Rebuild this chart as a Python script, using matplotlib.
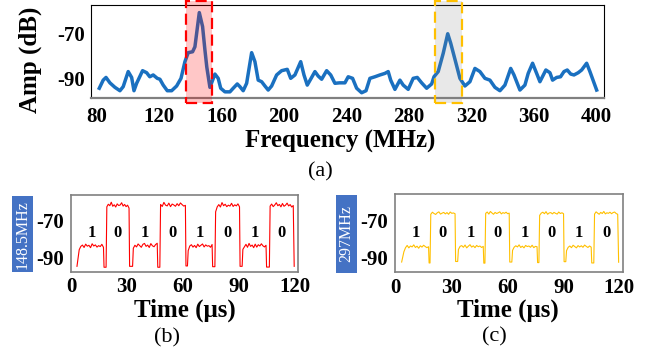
import matplotlib.pyplot as plt
import matplotlib.patches as patches
import numpy as np

plt.rcParams['font.family'] = ['Liberation Serif', 'DejaVu Serif']
plt.rcParams['axes.unicode_minus'] = False

# ---- spectrum (a) ----
freq_mhz = [81.7, 84.2, 86, 88.5, 91.7, 94.9, 97, 100.2, 102.4, 103.9, 105.6, 109.4, 112, 114,
            116.2, 118.8, 120.5, 122.6, 125.2, 128, 131.2, 134, 136.5, 138.6, 141.4, 142.9, 145.7,
            147.8, 149.3, 150.5, 152.5, 155.7, 157.8, 159.4, 162.1, 165.3, 167.4, 170, 171.7, 173.8,
            176, 179.2, 181.3, 183.4, 185.6, 187.7, 189.8, 192, 195.2, 198.4, 202, 204.2, 206.9,
            210.6, 212.7, 214.8, 217.6, 219.7, 221.8, 224, 227.2, 229.8, 232.5, 235.5, 238.9, 241,
            243.8, 246.4, 249.6, 252.4, 254.9, 258.1, 261.3, 264.5, 266.6, 268.2, 270.9, 274.1,
            276.2, 279.4, 282.6, 285.2, 288, 291.2, 294.4, 295.9, 298.6, 301.8, 304.7, 306.6, 309.3,
            312.5, 315.7, 318.9, 322.1, 325.3, 328.5, 331.7, 334.9, 338.1, 341.3, 345, 347.1, 350.9,
            354.1, 356.2, 359, 361.6, 363.7, 367.5, 370.1, 371.8, 374.4, 376.9, 379.1, 381.2, 383.4,
            385.5, 388.2, 390.4, 393.6, 395.7, 400]
amp_db = [-94.4, -90.8, -89.6, -92, -94, -95.5, -93.7, -87, -89.6, -95.5, -92.2, -86.6, -87.5, -89.3,
          -88.5, -90, -90.4, -93, -95.5, -95.5, -93.4, -90, -82.6, -78.6, -78.2, -76, -60.8,
          -67, -77.4, -85, -94, -88.1, -90, -94.4, -96, -96, -94.4, -92.5, -93.7, -95.5,
          -92.2, -78.6, -82.6, -90.8, -91.5, -93.4, -95.2, -93.4, -88.5, -86.6, -86, -90, -88.5,
          -82.6, -88.5, -93, -89.6, -87, -89, -90.4, -86.6, -88.5, -92.2, -92, -92, -89.3,
          -90, -94.4, -96.4, -95.5, -90, -89.3, -88.5, -87.8, -87, -90.8, -94.9, -90.8,
          -93, -94.9, -90, -89.6, -92, -94.4, -92.5, -89.3, -87, -78.9, -70.2, -74.4, -81.5,
          -90, -93.4, -91.5, -85.6, -87, -90, -90.8, -94, -95.5, -93, -85.6, -88.5, -95.2,
          -93, -87.8, -83.3, -87.8, -91.5, -86.3, -87.5, -90.8, -89.6, -89.3, -87, -86.3, -88.1,
          -88.5, -87.5, -86.3, -83.3, -87, -95.2]
red_band = (137, 154)
gray_band = (296.5, 313.6)
freq_ticks = [80, 120, 160, 200, 240, 280, 320, 360, 400]

# ---- time traces (b) and (c) ----
bits = ['1', '0', '1', '0', '1', '0', '1', '0']
carrier_labels = ['148.5MHz', '297MHz']
time_ticks = [0, 30, 60, 90, 120]

t_start_b = [4.4, 19.2, 33.4, 48.0, 62.8, 77.5, 92.1, 106.7]
t_end_b = [17.4, 31.1, 46.2, 61.3, 75.6, 90.3, 104.5, 119.1]
dip_b = [-95, -95.5, -95, -95.5, -94.8, -95.2, -95, -95.4, -95]
plateau_b = [
    [-86.0, -84.2, -83.5, -84.8, -83.0, -84.1, -83.6, -84.9, -82.8, -84.0, -83.4, -84.6, -83.8, -84.3, -83.1, -84.7],
    [-62.8, -61.4, -62.2, -60.3, -62.5, -61.7, -62.9, -61.2, -62.1, -61.8, -60.6, -62.4, -61.5, -62.7, -61.9, -63.5],
    [-85.2, -83.6, -84.5, -82.9, -83.8, -84.7, -83.1, -82.6, -84.2, -83.5, -84.8, -82.7, -83.9, -84.4, -83.2, -82.5],
    [-61.5, -62.6, -60.4, -61.9, -62.3, -60.8, -62.7, -61.3, -61.8, -62.5, -61.1, -62.2, -60.7, -61.6, -62.4, -62.0],
    [-86.5, -84.0, -83.3, -84.6, -83.7, -84.9, -83.0, -84.3, -83.6, -82.9, -84.5, -83.4, -84.1, -83.8, -84.7, -83.2],
    [-65.5, -62.8, -61.6, -62.9, -60.5, -62.2, -61.4, -62.7, -61.9, -62.4, -60.9, -62.6, -61.7, -62.3, -61.2, -62.8],
    [-85.8, -84.4, -83.1, -84.7, -82.6, -84.2, -83.5, -84.9, -83.0, -84.6, -83.3, -84.0, -82.8, -83.9, -84.5, -83.6],
    [-62.4, -61.3, -62.7, -61.8, -60.6, -62.2, -61.5, -62.8, -61.0, -62.5, -61.9, -60.8, -62.3, -61.6, -62.9, -62.1],
]

t_start_c = [4.6, 19.0, 33.8, 48.4, 62.8, 77.3, 91.7, 106.7]
t_end_c = [17.8, 32.0, 47.1, 61.0, 75.9, 90.1, 104.9, 119.1]
dip_c = [-92.5, -93, -92.2, -93.1, -92.5, -92.8, -92.3, -93, -92.6]
plateau_c = [
    [-87.0, -84.8, -83.6, -84.9, -83.9, -84.4, -83.3, -84.7, -84.0, -85.1, -83.8, -84.5, -83.5, -84.2, -84.8, -84.3],
    [-66.9, -65.8, -66.5, -67.0, -66.1, -65.6, -66.8, -66.3, -65.9, -66.7, -66.0, -66.9, -65.7, -66.4, -66.2, -66.6],
    [-85.8, -84.1, -83.7, -84.6, -83.4, -84.9, -84.0, -83.2, -84.5, -83.8, -84.8, -83.6, -84.3, -83.9, -84.7, -84.1],
    [-66.4, -65.7, -66.8, -65.4, -66.2, -66.9, -65.9, -66.5, -66.1, -65.6, -66.7, -66.0, -66.4, -65.8, -66.6, -66.3],
    [-86.2, -84.5, -83.8, -84.4, -83.3, -84.7, -84.0, -84.9, -83.6, -84.2, -83.9, -84.6, -83.5, -84.8, -84.1, -84.3],
    [-67.5, -66.3, -65.8, -66.6, -65.5, -66.9, -66.2, -66.0, -66.7, -65.9, -66.4, -66.8, -65.7, -66.5, -66.1, -66.6],
    [-86.4, -84.6, -83.9, -84.8, -83.5, -84.2, -84.9, -83.7, -84.4, -83.8, -84.6, -83.4, -84.1, -84.7, -83.9, -84.5],
    [-66.8, -65.6, -66.3, -66.9, -65.9, -66.5, -65.4, -66.7, -66.1, -66.4, -65.8, -66.6, -66.0, -65.7, -66.5, -66.9],
]

W, H = 662, 358


def fx(px):
    return px / W


def fy(py):
    return 1 - py / H


def build_trace(t0, t1, plateaus, dips):
    t, a = [t0[0] - 1.2], [dips[0]]
    for i in range(len(t0)):
        if i > 0:
            t += [t1[i - 1] + 0.3, t0[i] - 0.4]
            a += [dips[i], dips[i]]
        t.extend(np.linspace(t0[i], t1[i], len(plateaus[i])))
        a.extend(plateaus[i])
    t.append(t1[-1] + 0.5)
    a.append(dips[-1])
    return t, a


fig = plt.figure(figsize=(6.62, 3.58), dpi=100)

# ---------------- (a) ----------------
ax = fig.add_axes([fx(90.7), fy(97.7), fx(604.3) - fx(90.7), fy(4.7) - fy(97.7)])
ax.plot(freq_mhz, amp_db, color='#1a70c0', lw=2.5, zorder=2)
ax.add_patch(patches.Rectangle((red_band[0], -100.8), red_band[1] - red_band[0], 45.2,
                               facecolor=(1, 0, 0, 0.22), edgecolor='#ff0000', lw=1.6,
                               linestyle=(0, (5, 2.5)), clip_on=False, zorder=3))
ax.add_patch(patches.Rectangle((gray_band[0], -100.8), gray_band[1] - gray_band[0], 45.2,
                               facecolor=(0.5, 0.5, 0.5, 0.18), edgecolor='#ffc000', lw=1.6,
                               linestyle=(0, (5, 2.5)), clip_on=False, zorder=3))
ax.set_xlim(76.2, 404.9)
ax.set_ylim(-98.6, -57.3)
ax.set_xticks(freq_ticks)
ax.set_xticklabels([str(v) for v in freq_ticks], fontsize=15, fontweight='bold')
ax.set_yticks([-70, -90])
ax.set_yticklabels(['-70', '-90'], fontsize=15, fontweight='bold')
ax.tick_params(axis='x', length=0, pad=7)
ax.tick_params(axis='y', length=0, pad=4)
for s in ['top', 'left', 'right']:
    ax.spines[s].set_color('black')
    ax.spines[s].set_linewidth(0.8)
ax.spines['bottom'].set_color('#808080')
ax.spines['bottom'].set_linewidth(1.6)

fig.text(fx(340), fy(141), 'Frequency (MHz)', fontsize=18, fontweight='bold', ha='center', va='center')
fig.text(fx(30), fy(60), 'Amp (dB)', fontsize=18, fontweight='bold', ha='center', va='center', rotation=90)
fig.text(fx(320), fy(172), '(a)', fontsize=16, ha='center', va='center')

# ---------------- (b) and (c) ----------------
panels = [
    dict(box=(71, 298.3, 195, 271.5), xlim=(0.5, 121.8), ylim=(-97.8, -56.4), color='#ff0000',
         t0=t_start_b, t1=t_end_b, plat=plateau_b, dips=dip_b, label_box=(12.3, 33.3, 196, 272.3),
         xlabel_pos=(185, 310), tag='(b)', tag_pos=(166.7, 338)),
    dict(box=(395.3, 623.3, 194.3, 272.3), xlim=(0.5, 122.1), ylim=(-98, -56.2), color='#ffc000',
         t0=t_start_c, t1=t_end_c, plat=plateau_c, dips=dip_c, label_box=(336, 357, 195, 272.7),
         xlabel_pos=(507.7, 310), tag='(c)', tag_pos=(494, 336.7)),
]

for k, p in enumerate(panels):
    l, r, t, b = p['box']
    axp = fig.add_axes([fx(l), fy(b), fx(r) - fx(l), fy(t) - fy(b)])
    tt, aa = build_trace(p['t0'], p['t1'], p['plat'], p['dips'])
    axp.plot(tt, aa, color=p['color'], lw=0.8)
    for i, bit in enumerate(bits):
        axp.text((p['t0'][i] + p['t1'][i]) / 2, -77, bit, fontsize=12, fontweight='bold',
                 ha='center', va='center')
    axp.set_xlim(*p['xlim'])
    axp.set_ylim(*p['ylim'])
    axp.set_xticks(time_ticks)
    axp.set_xticklabels([str(v) for v in time_ticks], fontsize=15, fontweight='bold')
    axp.set_yticks([-70, -90])
    axp.set_yticklabels(['-70', '-90'], fontsize=15, fontweight='bold')
    axp.tick_params(axis='x', length=0, pad=4)
    axp.tick_params(axis='y', length=0, pad=5)
    for s in axp.spines.values():
        s.set_color('#808080')
        s.set_linewidth(1.2)
    xl, yl = p['xlabel_pos']
    fig.text(fx(xl), fy(yl), 'Time (μs)', fontsize=18, fontweight='bold', ha='center', va='center')
    tx, ty = p['tag_pos']
    fig.text(fx(tx), fy(ty), p['tag'], fontsize=16, ha='center', va='center')

    bl, br, bt, bb = p['label_box']
    fig.patches.append(patches.Rectangle((fx(bl), fy(bb)), fx(br) - fx(bl), fy(bt) - fy(bb),
                                         transform=fig.transFigure, facecolor='#4472c4',
                                         edgecolor='none'))
    fig.text(fx((bl + br) / 2), fy((bt + bb) / 2), carrier_labels[k], color='white', fontsize=11.5,
             ha='center', va='center', rotation=90)

fig.savefig('out.png', dpi=100)
